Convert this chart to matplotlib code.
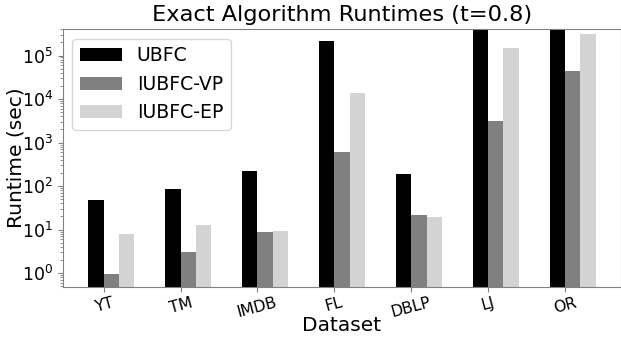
import matplotlib
matplotlib.use("Agg")
import matplotlib.pyplot as plt
import numpy as np

datasets = ["YT", "TM", "IMDB", "FL", "DBLP", "LJ", "OR"]
ubfc = [47, 85, 218, 2.1e5, 186, 1.0e6, 1.0e6]
iubfc_vp = [0.95, 3.0, 8.7, 600, 22, 3100, 4.3e4]
iubfc_ep = [7.8, 12.6, 9.1, 1.4e4, 19, 1.5e5, 3.2e5]
series_names = ["UBFC", "IUBFC-VP", "IUBFC-EP"]
colors = ["black", "gray", "lightgray"]

W, H = 621, 344
fig = plt.figure(figsize=(W / 100, H / 100), dpi=100)
ax = fig.add_axes([63 / W, 1 - 287 / H, (W - 63) / W, (287 - 29.3) / H])

x = np.arange(len(datasets))
w = 0.2
for i, (vals, name, c) in enumerate(zip([ubfc, iubfc_vp, iubfc_ep], series_names, colors)):
    ax.bar(x + (i - 1) * w, vals, w, label=name, color=c, align="edge")

ax.set_yscale("log")
ax.set_ylim(0.48, 4.0e5)
ax.set_xticks(x)
ax.set_xticklabels(datasets, rotation=15, fontsize=11.3)
ax.tick_params(axis="x", pad=2.5)
ax.tick_params(axis="y", labelsize=12.5)
ax.tick_params(which="both", color="gray")
for s in ax.spines.values():
    s.set_color("gray")
ax.set_xlabel("Dataset", fontsize=14.5)
ax.set_ylabel("Runtime (sec)", fontsize=14.5)
ax.yaxis.set_label_coords((25 - 63) / (W - 63), 0.5)
ax.xaxis.set_label_coords(0.5, -(316 - 287) / (287 - 29.3))
ax.set_title("Exact Algorithm Runtimes (t=0.8)", fontsize=16.2)
ax.legend(loc="upper left", fontsize=13.6, handlelength=2.2)

fig.savefig("out.png", dpi=100)
